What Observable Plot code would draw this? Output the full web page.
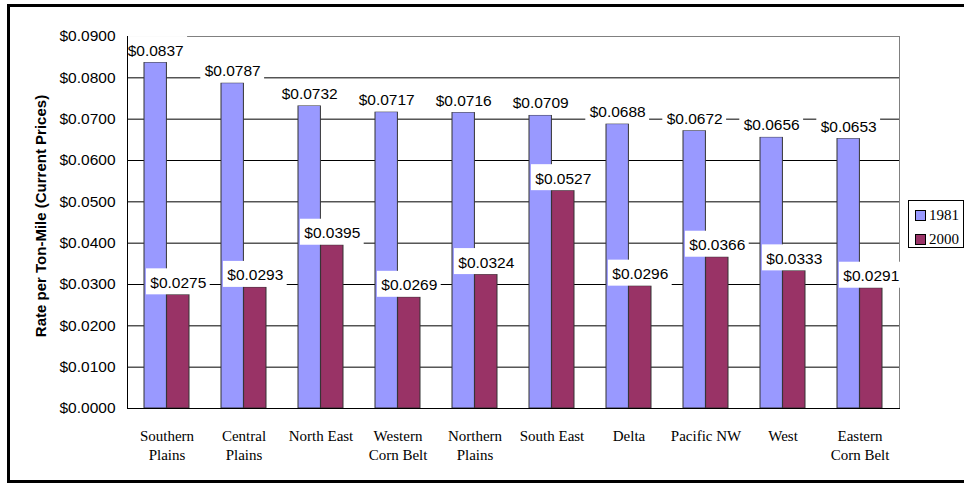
<!DOCTYPE html>
<html><head><meta charset="utf-8">
<script src="https://cdn.jsdelivr.net/npm/d3@7"></script>
<script src="https://cdn.jsdelivr.net/npm/@observablehq/plot@0.6"></script>
<style>
html,body{margin:0;padding:0;background:#fff;overflow:hidden;width:964px;height:483px;}
#wrap{position:relative;width:964px;height:483px;overflow:hidden;}
#chart{position:absolute;left:0;top:0;}
#border{position:absolute;left:7px;top:4px;width:990px;height:479px;box-sizing:border-box;border:3px solid #000;pointer-events:none;}
#legend{position:absolute;left:908px;top:200px;width:56px;height:48px;box-sizing:border-box;border:1px solid #000;background:#fff;font-family:"Liberation Serif",serif;font-size:15px;color:#000;}
.item{position:absolute;left:6px;height:16px;line-height:16px;white-space:nowrap;}
.sw{display:inline-block;width:9px;height:9px;border:1px solid #000;vertical-align:middle;margin-right:3px;position:relative;top:-1px;}
</style>
</head><body>
<div id="wrap"><div id="chart"></div><div id="legend"></div><div id="border"></div></div>
<script>
const regions = ["Southern Plains","Central Plains","North East","Western Corn Belt","Northern Plains","South East","Delta","Pacific NW","West","Eastern Corn Belt"];
const regionLabels = ["Southern\nPlains","Central\nPlains","North East","Western\nCorn Belt","Northern\nPlains","South East","Delta","Pacific NW","West","Eastern\nCorn Belt"];
const rates1981 = [0.0837,0.0787,0.0732,0.0717,0.0716,0.0709,0.0688,0.0672,0.0656,0.0653];
const rates2000 = [0.0275,0.0293,0.0395,0.0269,0.0324,0.0527,0.0296,0.0366,0.0333,0.0291];
const years = ["1981","2000"];
const colors = ["#9999FF","#993366"];
const yTicks = [0,0.01,0.02,0.03,0.04,0.05,0.06,0.07,0.08,0.09];
const yTitle = "Rate per Ton-Mile (Current Prices)";

const d81 = regions.map((r,i)=>({region:r, year:years[0], rate:rates1981[i]}));
const d00 = regions.map((r,i)=>({region:r, year:years[1], rate:rates2000[i]}));
const fmt = v => "$" + v.toFixed(4);
const labelFont = {fontFamily:"Liberation Sans", fontSize:15.5};

const plot = Plot.plot({
  width: 964, height: 483,
  marginLeft: 127, marginRight: 65, marginTop: 36, marginBottom: 75,
  style: {fontFamily:"Liberation Sans", fontSize:"15.5px", color:"#000", background:"transparent"},
  x: {domain: regions, type: "band", padding: 0},
  y: {domain: [0, 0.09]},
  marks: [
    Plot.ruleY(yTicks.slice(1, -1), {stroke:"#000", strokeWidth:1}),
    Plot.frame({stroke:"#808080"}),
    Plot.barY(d81, {x:"region", y:"rate", fill:colors[0], stroke:"#333", strokeWidth:1, insetLeft:16, insetRight:38.6}),
    Plot.barY(d00, {x:"region", y:"rate", fill:colors[1], stroke:"#333", strokeWidth:1, insetLeft:38.6, insetRight:16}),
    Plot.barY(d81, {x:"region", y1:"rate", y2:"rate", fill:"#fff", insetLeft:-4.7, insetRight:17.9, insetTop:-26}),
    Plot.barY(d00, {x:"region", y1:"rate", y2:"rate", fill:"#fff", insetLeft:17.9, insetRight:-4.7, insetTop:-26}),
    Plot.text(d81, {x:"region", y:"rate", text:d=>fmt(d.rate), dx:-11.3, dy:-12, ...labelFont}),
    Plot.text(d00, {x:"region", y:"rate", text:d=>fmt(d.rate), dx:11.3, dy:-12, ...labelFont}),
    Plot.frame({anchor:"left", stroke:"#000"}),
    Plot.frame({anchor:"bottom", stroke:"#000"}),
    Plot.axisY({ticks: yTicks, tickFormat: fmt, tickSize: 0, tickPadding: 12, label: null, ...labelFont}),
    Plot.axisX({tickSize: 0, tickPadding: 19, label: null, tickFormat: d => regionLabels[regions.indexOf(d)], fontFamily:"Liberation Serif", fontSize:15, lineHeight:1.27}),
    Plot.text([yTitle], {text: d=>d, frameAnchor:"left", textAnchor:"middle", rotate:-90, dx:-86, dy:-6.5, fontWeight:"bold", fontSize:15, fontFamily:"Liberation Sans"})
  ]
});
document.getElementById("chart").appendChild(plot);

const legend = document.getElementById("legend");
years.forEach((y,i)=>{
  const it = document.createElement("div");
  it.className = "item";
  it.style.top = (6 + i*24) + "px";
  it.innerHTML = `<span class="sw" style="background:${colors[i]}"></span>${y}`;
  legend.appendChild(it);
});
</script>
</body></html>
